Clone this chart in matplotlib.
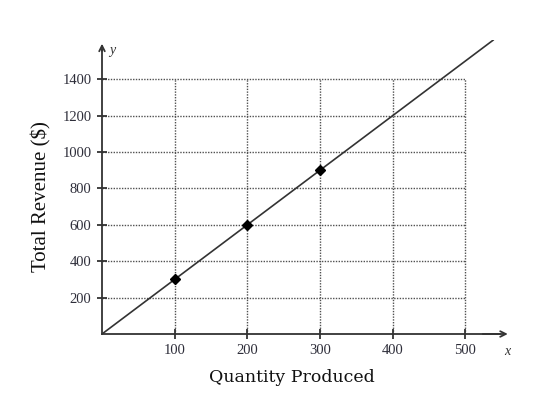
import matplotlib
matplotlib.use("Agg")
import matplotlib.pyplot as plt
import numpy as np

# Data
quantity_points = [100, 200, 300]
revenue_points = [300, 600, 900]
price = 3
line_x = [0, 538]
x_ticks = [100, 200, 300, 400, 500]
y_ticks = [200, 400, 600, 800, 1000, 1200, 1400]
x_label = "Quantity Produced"
y_label = "Total Revenue ($)"

plt.rcParams['font.family'] = ['Liberation Serif', 'DejaVu Serif']

fig = plt.figure(figsize=(5.37, 3.96), dpi=100)
ax = fig.add_axes([102/537, 62/396, 410/537, 294/396])
xmax, ymax = 564, 1615
ax.set_xlim(0, xmax)
ax.set_ylim(0, ymax)

grid_kw = dict(color='#505050', lw=1.0, ls=(0, (1, 1)), zorder=1)
for y in y_ticks:
    ax.plot([0, x_ticks[-1]], [y, y], **grid_kw)
for x in x_ticks:
    ax.plot([x, x], [0, y_ticks[-1]], **grid_kw)

ax.plot(line_x, [price * v for v in line_x], color='#333333', lw=1.2, zorder=3)
ax.plot(quantity_points, revenue_points, 'D', color='black', ms=5.5, zorder=4)

for s in ['top', 'right']:
    ax.spines[s].set_visible(False)
for s in ['left', 'bottom']:
    ax.spines[s].set_color('#333333')
    ax.spines[s].set_linewidth(1.3)
ax.spines['left'].set_bounds(0, 1560)
ax.spines['bottom'].set_bounds(0, 548)

# arrow heads
ax.annotate('', xy=(0, 1610), xytext=(0, 1540),
            arrowprops=dict(arrowstyle='->', color='#333333', lw=1.3), annotation_clip=False)
ax.annotate('', xy=(xmax - 2, 0), xytext=(520, 0),
            arrowprops=dict(arrowstyle='->', color='#333333', lw=1.3), annotation_clip=False)

ax.set_xticks(x_ticks)
ax.set_yticks(y_ticks)
ax.set_xticklabels([str(v) for v in x_ticks])
ax.set_yticklabels([str(v) for v in y_ticks])
ax.tick_params(direction='inout', length=7, width=1.3, color='#333333',
               labelsize=10.5, labelcolor='#2e2e3a', pad=4)

ax.text(10, 1560, 'y', style='italic', fontsize=10, color='#333333', va='center', ha='left')
ax.text(xmax - 6, -95, 'x', style='italic', fontsize=10, color='#333333', va='center', ha='center')

ax.set_xlabel(x_label, fontsize=12.5, color='#111111', family=['DejaVu Serif'])
ax.set_ylabel(y_label, fontsize=15, color='#111111')
ax.xaxis.set_label_coords((292 - 102) / 410, -(369 - 334) / 294)
ax.yaxis.set_label_coords(-(102 - 51) / 410, (334 - 197) / 294)

fig.savefig('out.png', dpi=100)
